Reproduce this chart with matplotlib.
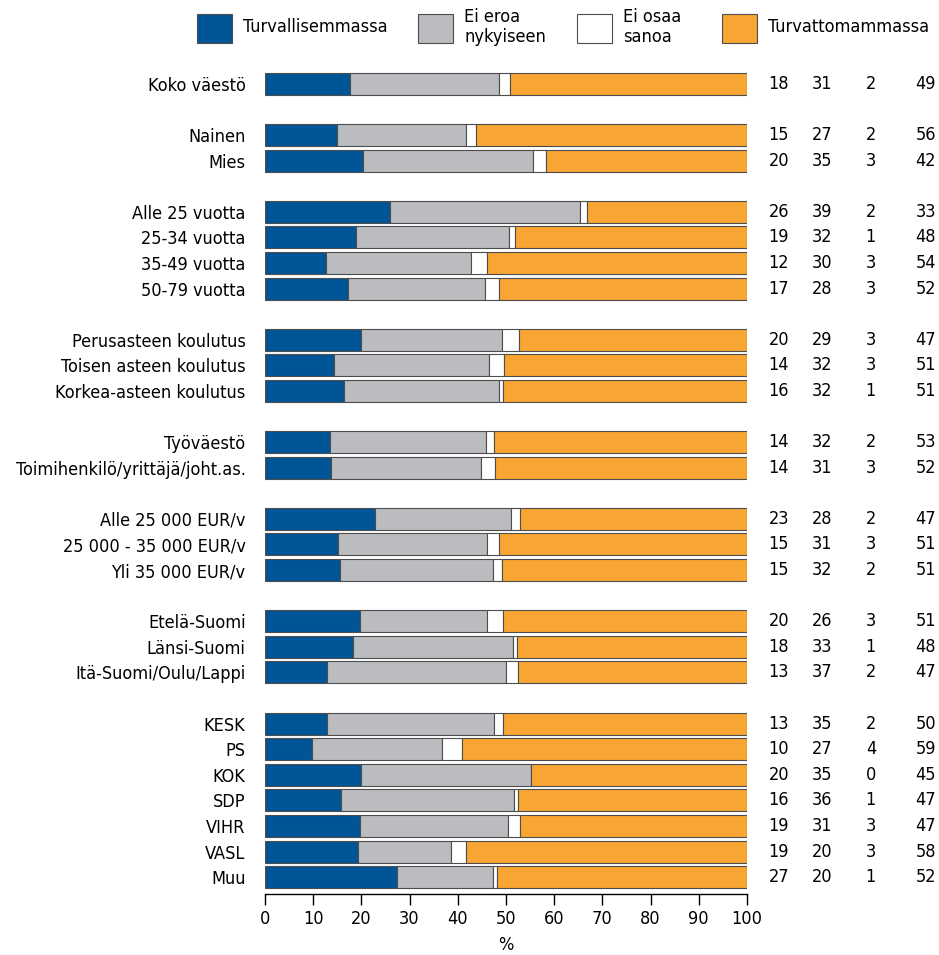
import numpy as np
import matplotlib.pyplot as plt
from matplotlib import font_manager
from matplotlib.patches import Rectangle

# pick a narrow font if there is one
narrow = None
for f in font_manager.fontManager.ttflist:
    if 'Narrow' in f.name or 'Condensed' in f.name or f.stretch in ('condensed', 'semi-condensed'):
        narrow = f
        break
if narrow is not None:
    plt.rcParams['font.family'] = [narrow.name, 'DejaVu Sans']
    plt.rcParams['font.stretch'] = narrow.stretch
    fs = 13
else:
    plt.rcParams['font.family'] = ['DejaVu Sans']
    fs = 11

# Data

categories = [
    ['Koko väestö'],
    ['Nainen', 'Mies'],
    ['Alle 25 vuotta', '25-34 vuotta', '35-49 vuotta', '50-79 vuotta'],
    ['Perusasteen koulutus', 'Toisen asteen koulutus', 'Korkea-asteen koulutus'],
    ['Työväestö', 'Toimihenkilö/yrittäjä/joht.as.'],
    ['Alle 25 000 EUR/v', '25 000 - 35 000 EUR/v', 'Yli 35 000 EUR/v'],
    ['Etelä-Suomi', 'Länsi-Suomi', 'Itä-Suomi/Oulu/Lappi'],
    ['KESK', 'PS', 'KOK', 'SDP', 'VIHR', 'VASL', 'Muu'],
]

series_names = ['Turvallisemmassa', 'Ei eroa\nnykyiseen', 'Ei osaa\nsanoa', 'Turvattomammassa']

# bar lengths (unrounded)
safer = [17.6, 14.9, 20.3, 25.9, 18.9, 12.7, 17.2, 19.9, 14.3, 16.4, 13.5, 13.7,
         22.8, 15.1, 15.6, 19.7, 18.3, 12.9, 12.9, 9.8, 19.9, 15.8, 19.7, 19.2, 27.3]
same = [30.9, 26.8, 35.3, 39.5, 31.7, 30.0, 28.4, 29.3, 32.2, 32.1, 32.4, 31.1,
        28.2, 31.0, 31.7, 26.4, 33.2, 37.1, 34.6, 26.9, 35.3, 35.9, 30.7, 19.3, 20.0]
dont_know = [2.3, 2.1, 2.7, 1.4, 1.3, 3.4, 2.9, 3.5, 3.1, 0.9, 1.6, 2.9,
             1.9, 2.4, 1.9, 3.3, 0.8, 2.5, 1.9, 4.2, 0.0, 0.8, 2.5, 3.3, 0.8]
less_safe = [49.2, 56.2, 41.7, 33.2, 48.1, 53.9, 51.5, 47.3, 50.4, 50.6, 52.5, 52.3,
             47.1, 51.5, 50.8, 50.6, 47.7, 47.5, 50.6, 59.1, 44.8, 47.5, 47.1, 58.2, 51.9]

# printed values on the right
labels_safer = [18, 15, 20, 26, 19, 12, 17, 20, 14, 16, 14, 14, 23, 15, 15, 20, 18, 13, 13, 10, 20, 16, 19, 19, 27]
labels_same = [31, 27, 35, 39, 32, 30, 28, 29, 32, 32, 32, 31, 28, 31, 32, 26, 33, 37, 35, 27, 35, 36, 31, 20, 20]
labels_dk = [2, 2, 3, 2, 1, 3, 3, 3, 3, 1, 2, 3, 2, 3, 2, 3, 1, 2, 2, 4, 0, 1, 3, 3, 1]
labels_less = [49, 56, 42, 33, 48, 54, 52, 47, 51, 51, 53, 52, 47, 51, 51, 51, 48, 47, 50, 59, 45, 47, 47, 58, 52]

colors = ['#005596', '#BBBCC0', '#FFFFFF', '#F9A533']

# row positions with an empty row between groups
names = []
ypos = []
row = 0
for group in categories:
    for c in group:
        names.append(c)
        ypos.append(row)
        row += 1
    row += 1
ypos = np.array(ypos)

fig = plt.figure(figsize=(9.39, 9.55), dpi=100)
ax = fig.add_axes([265 / 939, 1 - 894 / 955, 482 / 939, (894 - 71) / 955])

left = np.zeros(len(names))
for vals, col in zip([safer, same, dont_know, less_safe], colors):
    vals = np.array(vals)
    ax.barh(ypos, vals, left=left, height=0.86, color=col, edgecolor='#4d4d4d', linewidth=0.8)
    left += vals

ax.set_xlim(0, 100)
ax.set_ylim(31.66, -0.5)
ax.set_yticks(ypos)
ax.set_yticklabels(names, fontsize=fs)
ax.tick_params(axis='y', length=0, pad=14)
ax.set_xticks(range(0, 101, 10))
ax.tick_params(axis='x', labelsize=fs, length=8, width=1, direction='out')
ax.set_xlabel('%', fontsize=fs, labelpad=6)
for s in ['left', 'right', 'top']:
    ax.spines[s].set_visible(False)
ax.spines['bottom'].set_linewidth(1)

col_x = [106.6, 115.6, 125.7, 137.1]
for j, labs in enumerate([labels_safer, labels_same, labels_dk, labels_less]):
    for y, v in zip(ypos, labs):
        ax.text(col_x[j], y, str(v), ha='center', va='center', fontsize=fs, clip_on=False)

# legend
leg_boxes = [197, 418, 577, 722]
for bx, col, name in zip(leg_boxes, colors, series_names):
    fig.patches.append(Rectangle((bx / 939, 1 - 43 / 955), 35 / 939, 29 / 955,
                                 transform=fig.transFigure, facecolor=col,
                                 edgecolor='#4d4d4d', linewidth=0.8))
    fig.text((bx + 46) / 939, 1 - 27 / 955, name, ha='left', va='center',
             fontsize=fs, linespacing=1.1)

fig.savefig('out.png', dpi=100)
